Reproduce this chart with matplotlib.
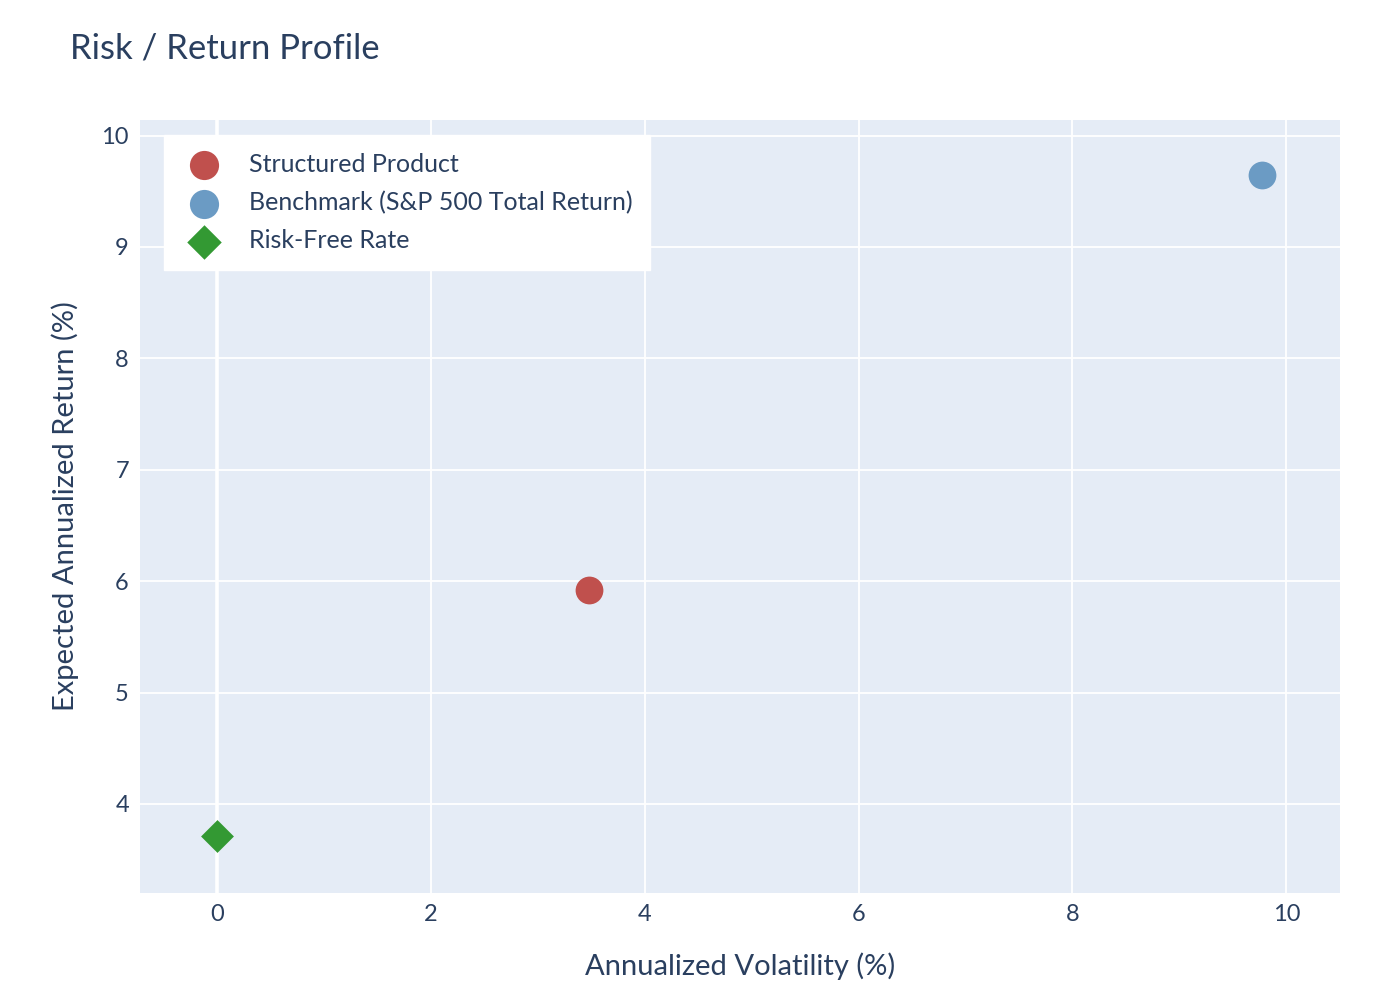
import matplotlib
matplotlib.use("Agg")
import matplotlib.pyplot as plt

plt.rcParams['font.family'] = ['Lato', 'DejaVu Sans']

# Data
names = ["Structured Product", "Benchmark (S&P 500 Total Return)", "Risk-Free Rate"]
volatility = [3.48, 9.77, 0.0]
returns = [5.92, 9.65, 3.71]
colors = ["#c0504d", "#6b9bc4", "#339933"]
markers = ["o", "o", "D"]

text_color = "#2a3f5f"

fig = plt.figure(figsize=(14, 10), dpi=100)
ax = fig.add_axes([0.10, 0.107, 0.857, 0.773])
ax.set_facecolor("#e5ecf6")

for name, x, y, c, m in zip(names, volatility, returns, colors, markers):
    size = 400 if m == "o" else 280
    ax.scatter(x, y, s=size, c=c, marker=m, label=name, zorder=3, linewidths=0)

ax.set_xlim(-0.72, 10.5)
ax.set_ylim(3.2, 10.14)
ax.set_xticks([0, 2, 4, 6, 8, 10])
ax.set_yticks([4, 5, 6, 7, 8, 9, 10])
ax.grid(True, color="white", linewidth=1.3, zorder=0)
ax.axvline(0, color="white", linewidth=2.6, zorder=1)
ax.set_axisbelow(True)
for s in ax.spines.values():
    s.set_visible(False)
ax.tick_params(length=0, labelsize=17, labelcolor=text_color, pad=8)

ax.set_xlabel("Annualized Volatility (%)", fontsize=21, color=text_color, labelpad=20)
ax.set_ylabel("Expected Annualized Return (%)", fontsize=21, color=text_color, labelpad=16)
fig.text(0.05, 0.952, "Risk / Return Profile", fontsize=25, color=text_color, va="center")

leg = ax.legend(loc="upper left", bbox_to_anchor=(0.02, 0.98), frameon=True, fancybox=False,
                fontsize=18, labelcolor=text_color, borderpad=0.7, handletextpad=0.9,
                labelspacing=0.6, borderaxespad=0, handlelength=1.8, markerscale=1.05)
leg.get_frame().set_facecolor("white")
leg.get_frame().set_edgecolor("white")
leg.get_frame().set_alpha(1)

fig.savefig("out.png", dpi=100)
